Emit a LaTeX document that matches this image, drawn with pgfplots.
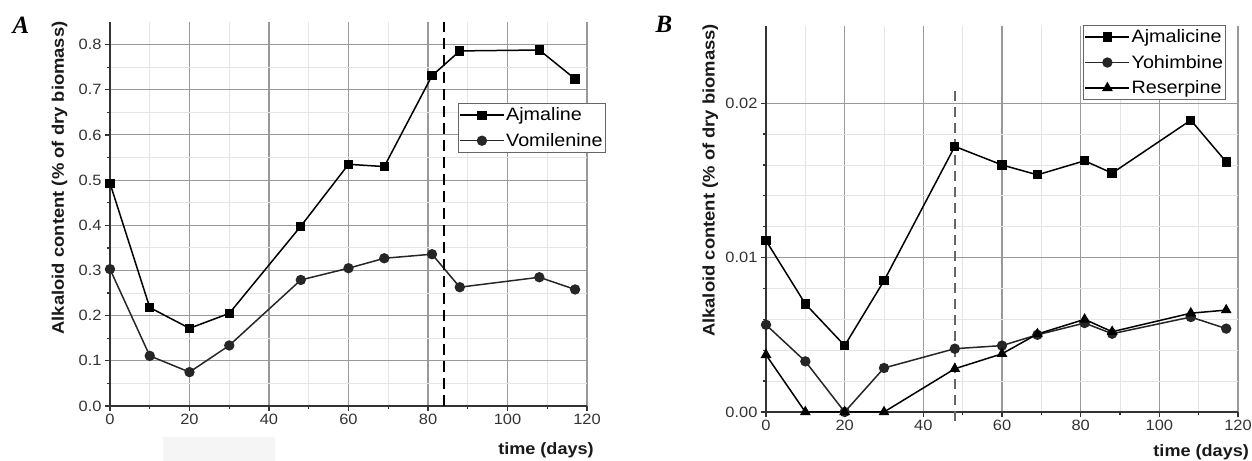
\documentclass[border=0pt]{standalone}
\usepackage{pgfplots}
\pgfplotsset{compat=1.18}
\usepackage{pgfplotstable}
\usepackage{fontspec}
\setmainfont[FakeStretch=1.1, BoldFeatures={FakeStretch=1.1}]{Liberation Sans}
\newfontfamily\serifbi{Liberation Serif}

\pgfplotstableread{
x ajm vom
0 0.493 0.303
10 0.218 0.111
20 0.172 0.075
30 0.205 0.134
48 0.398 0.279
60 0.535 0.305
69 0.530 0.327
81 0.731 0.336
88 0.786 0.263
108 0.788 0.285
117 0.724 0.258
}\tableA

\pgfplotstableread{
x ajc yoh res
0 0.0111 0.00565 0.0037
10 0.0070 0.00328 0.0
20 0.0043 0.0 0.0
30 0.0085 0.00285 0.0
48 0.0172 0.0041 0.0028
60 0.0160 0.0043 0.00377
69 0.01536 0.0050 0.00505
81 0.01627 0.00576 0.0060
88 0.01547 0.00507 0.0052
108 0.0189 0.00615 0.0064
117 0.0162 0.0054 0.0066
}\tableB

\pgfplotsset{
 mystyle/.style={
  scale only axis,
  axis x line*=bottom, axis y line*=left,
  xmin=0, xmax=120, xtick={0,20,...,120}, minor x tick num=1,
  grid=both,
  major grid style={color=black!40, line width=1.1bp},
  minor grid style={color=black!10, line width=0.9bp},
  tick align=outside, major tick length=5bp, minor tick length=3bp,
  every tick/.style={color=black!80, line width=1.3bp},
  axis line style={black!80, line width=1.8bp},
  ticklabel style={font=\fontsize{15}{15}\selectfont, color=black!80},
  /pgf/number format/assume math mode=true,
  xlabel style={font=\bfseries\fontsize{16.5}{16.5}\selectfont, color=black!90},
  ylabel style={font=\bfseries\fontsize{16.8}{16.8}\selectfont, color=black!90},
  xlabel={time (days)},
  ylabel={Alkaloid content (\% of dry biomass)},
  legend style={font=\fontsize{18}{18}\selectfont, draw=black!60, line width=0.9bp,
    inner xsep=1bp, inner ysep=2bp, row sep=6bp, fill=white,
    nodes={inner xsep=1.5bp, inner ysep=2.5bp}},
  legend cell align=left,
  legend image code/.code={\draw[mark repeat=2,mark phase=2,#1] plot coordinates {(0bp,0bp) (22bp,0bp) (44bp,0bp)};},
 },
 sq/.style={black, line width=1.5bp, mark=square*, mark size=3.9bp, mark options={solid}},
 ci/.style={black!85, line width=1.5bp, mark=*, mark size=4.4bp, mark options={solid}},
 tr/.style={black, line width=1.5bp, mark=triangle*, mark size=4.8bp, mark options={solid}},
}

\begin{document}
\begin{tikzpicture}
\useasboundingbox (0bp,0bp) rectangle (1252bp,461bp);
\fill[black!4] (163bp,0bp) rectangle (275bp,24bp);

\begin{axis}[mystyle,
  at={(110bp,55bp)}, anchor=south west,
  width=477bp, height=384bp,
  ymin=0, ymax=0.85, ytick={0,0.1,...,0.8}, minor y tick num=1,
  yticklabel style={/pgf/number format/fixed, /pgf/number format/precision=1, /pgf/number format/fixed zerofill},
  xlabel style={at={(axis description cs:0.914,-0.115)}, anchor=center},
  ylabel style={at={(axis description cs:-0.106,0.594)}, anchor=center, rotate=0},
  legend style={at={(0.729,0.789)}, anchor=north west},
  clip=false,
]
\addplot[sq] table[x=x,y=ajm] {\tableA};
\addlegendentry{Ajmaline}
\addplot[ci] table[x=x,y=vom] {\tableA};
\addlegendentry{Vomilenine}
\addplot[black, line width=2.6bp, dash pattern=on 11bp off 6bp, forget plot] coordinates {(84,0) (84,0.85)};
\end{axis}

\begin{axis}[mystyle,
  at={(766bp,49bp)}, anchor=south west,
  width=472bp, height=386bp,
  ymin=0, ymax=0.025, ytick={0,0.01,0.02}, minor y tick num=4,
  scaled y ticks=false,
  yticklabel style={/pgf/number format/fixed, /pgf/number format/precision=2, /pgf/number format/fixed zerofill},
  xlabel style={at={(axis description cs:0.922,-0.103)}, anchor=center},
  ylabel style={at={(axis description cs:-0.118,0.60)}, anchor=center, rotate=0},
  legend style={at={(0.672,1.003)}, anchor=north west},
  clip=false,
]
\addplot[sq] table[x=x,y=ajc] {\tableB};
\addlegendentry{Ajmalicine}
\addplot[ci] table[x=x,y=yoh] {\tableB};
\addlegendentry{Yohimbine}
\addplot[tr] table[x=x,y=res] {\tableB};
\addlegendentry{Reserpine}
\addplot[black!60, line width=2bp, dash pattern=on 10bp off 6bp, forget plot] coordinates {(48,-0.0006) (48,0.0209)};
\end{axis}

\node[font=\serifbi\bfseries\itshape\fontsize{25}{25}\selectfont] at (21bp,436bp) {A};
\node[font=\serifbi\bfseries\itshape\fontsize{25}{25}\selectfont] at (664bp,437bp) {B};
\end{tikzpicture}
\end{document}
